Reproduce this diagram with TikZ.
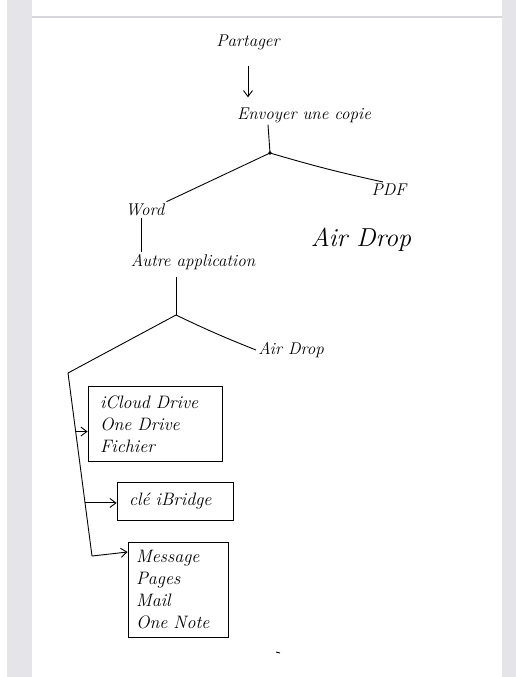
\documentclass[tikz,border=0pt]{standalone}
\usepackage{tikz}
\usetikzlibrary{calc}
\usetikzlibrary{arrows.meta}

\definecolor{sidebar}{RGB}{228,228,233}
\definecolor{rule}{RGB}{214,214,220}

\tikzset{
  lbl/.style={font=\fontsize{17}{21}\selectfont\itshape, inner sep=2pt},
  biglbl/.style={font=\fontsize{26}{30}\selectfont\itshape, inner sep=2pt},
  listbox/.style={draw, thick, align=left, font=\fontsize{18}{22}\selectfont\itshape,
    anchor=center},
  arr/.style={-{Straight Barb[length=6pt,width=9pt]}},
  pen/.style={line width=0.9pt}
}

\begin{document}
\begin{tikzpicture}[x=1pt,y=-1pt]
        \useasboundingbox (0,0) rectangle (516,677);
        % page background and side bars
        \fill[white] (0,0) rectangle (516,677);
        \fill[sidebar] (7,0) rectangle (32,677);
        \fill[sidebar] (502,0) rectangle (516,677);
        \draw[rule, line width=1.2pt] (32,17) -- (502,17);

        % Top of the tree
        \node[lbl] (partager) at (248,42) {Partager};
        \node[lbl] (envoyer) at (304,115) {Envoyer une copie};
        \draw[pen, arr, shorten <=14pt, shorten >=8pt] (partager.south) -- (partager.south |- envoyer.north);

        \coordinate (j1) at (270,153);
        \node[lbl] (word) at (145,210) {Word};
        \node[lbl] (pdf) at (389,190) {PDF};
        \draw[pen] (j1) -- ([xshift=-2pt]j1 |- envoyer.south);
        \fill (j1) circle (1.8);
        \draw[pen] (j1) -- (word.north east);
        \draw[pen] (j1) to[bend right=2] ([xshift=-6pt]pdf.north);

        \node[biglbl] (airdropbig) at (361,240) {Air Drop};

        % Second level
        \node[lbl] (autre) at (193,262) {Autre application};
        \draw[pen] ([xshift=-4pt]word.south) -- ([xshift=-4pt]word.south |- autre.north);

        \coordinate (j2) at (176,315);
        \node[lbl] (airdrop) at (291,350) {Air Drop};
        \draw[pen, shorten >=5pt] (j2) -- (j2 |- autre.south);
        \draw[pen] (j2) to[bend right=2] (airdrop.west);

        % Left bracket with the three boxes
        \coordinate (corner) at (68,373);
        \coordinate (foot) at (92,556);
        \draw[pen] (j2) -- (corner) -- (foot);

        \node[listbox, inner xsep=12pt, text width=110pt, minimum height=75pt] (cloud) at (155,424) {iCloud Drive\\One Drive\\Fichier};
        \node[listbox, inner xsep=12pt, text width=92pt, minimum height=38pt] (cle) at (175,501) {clé iBridge};
        \node[listbox, inner xsep=8pt, text width=84pt, minimum height=95pt] (apps) at (178,590) {Message\\Pages\\Mail\\One Note};

        \coordinate (a1) at ($(corner)!0.32!(foot)$);
        \coordinate (a2) at ($(corner)!0.71!(foot)$);
        \coordinate (a3) at ($(corner)!1.0!(foot)$);
        \draw[pen, arr] (a1) -- (a1 -| cloud.west);
        \draw[pen, arr] (a2) -- (a2 -| cle.west);
        \draw[pen, arr] (a3) -- ([yshift=4pt]a3 -| apps.west);

        % small stray stroke
        \draw[pen] (276,652) -- (280,653);
    \end{tikzpicture}
\end{document}
